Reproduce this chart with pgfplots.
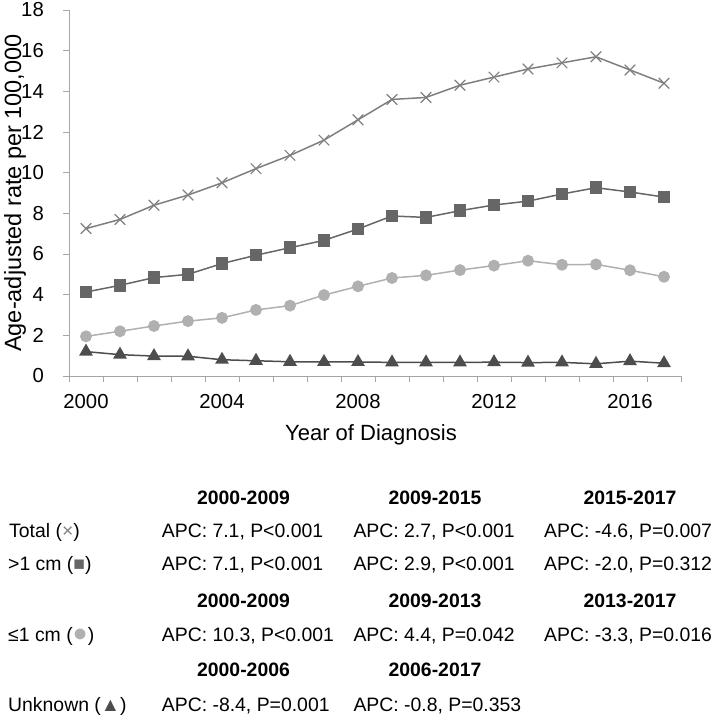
\documentclass[border=0pt]{standalone}
\usepackage{fontspec}
\setmainfont{Liberation Sans}
\usepackage{pgfplots}
\pgfplotsset{compat=1.18}
\definecolor{totc}{HTML}{7F7F7F}
\definecolor{sqc}{HTML}{666666}
\definecolor{circc}{HTML}{B0B0B0}
\definecolor{tric}{HTML}{4D4D4D}
\definecolor{axc}{HTML}{A6A6A6}
\newcommand\tfont{\fontsize{19.4}{23}\selectfont}
\newcommand\lfont{\fontsize{22}{26}\selectfont}
\newcommand\kfont{\fontsize{20.3}{24}\selectfont}
\newcommand\kl[1]{\mbox{\kfont #1}}
\begin{document}
\begin{tikzpicture}
\useasboundingbox (0,0) rectangle (714pt,-715pt);
\begin{axis}[
  at={(69pt,-376pt)}, anchor=south west,
  scale only axis, width=612pt, height=366pt,
  xmin=1999.5, xmax=2017.5, ymin=0, ymax=18,
  axis x line*=bottom, axis y line*=left,
  axis line style={axc, line width=0.9pt, -},
  xtick={1999.5,2000.5,...,2017.5},
  xticklabels={},
  extra x ticks={2000,2004,2008,2012,2016},
  extra x tick labels={\kl{2000},\kl{2004},\kl{2008},\kl{2012},\kl{2016}},
  extra x tick style={major tick length=0pt, xticklabel style={anchor=base, inner sep=0pt, yshift=-32.7pt}},
  ytick={0,2,...,18},
  yticklabels={\kl{0},\kl{2},\kl{4},\kl{6},\kl{8},\kl{10},\kl{12},\kl{14},\kl{16},\kl{18}},
  yticklabel style={anchor=east, inner sep=0pt, xshift=-19pt},
  major tick length=6pt,
  tick align=outside,
  tick style={axc, line width=0.9pt},
  clip=false,
]
\addplot[totc, line width=1.5pt, mark=x, mark size=7.5pt, mark options={line width=1.2pt, draw=totc}] coordinates {
(2000,7.25) (2001,7.7) (2002,8.4) (2003,8.9) (2004,9.5) (2005,10.2) (2006,10.85) (2007,11.6) (2008,12.6) (2009,13.6) (2010,13.7) (2011,14.3) (2012,14.7) (2013,15.1) (2014,15.4) (2015,15.7) (2016,15.05) (2017,14.4)};
\addplot[sqc, line width=1.5pt, mark=square*, mark size=5.5pt, mark options={fill=sqc, draw=sqc}] coordinates {
(2000,4.13) (2001,4.46) (2002,4.84) (2003,5.0) (2004,5.53) (2005,5.94) (2006,6.31) (2007,6.67) (2008,7.23) (2009,7.87) (2010,7.8) (2011,8.13) (2012,8.41) (2013,8.6) (2014,8.95) (2015,9.26) (2016,9.05) (2017,8.8)};
\addplot[circc, line width=1.5pt, mark=*, mark size=5.2pt, mark options={fill=circc, draw=circc}] coordinates {
(2000,1.95) (2001,2.2) (2002,2.46) (2003,2.7) (2004,2.86) (2005,3.25) (2006,3.46) (2007,3.98) (2008,4.41) (2009,4.82) (2010,4.95) (2011,5.21) (2012,5.43) (2013,5.67) (2014,5.47) (2015,5.49) (2016,5.2) (2017,4.88)};
\addplot[tric, line width=1.5pt, mark=triangle*, mark size=6.5pt, mark options={fill=tric, draw=tric}] coordinates {
(2000,1.2) (2001,1.05) (2002,0.98) (2003,0.97) (2004,0.8) (2005,0.75) (2006,0.7) (2007,0.69) (2008,0.69) (2009,0.67) (2010,0.67) (2011,0.67) (2012,0.68) (2013,0.66) (2014,0.67) (2015,0.6) (2016,0.73) (2017,0.63)};
\end{axis}
% axis labels
\node[anchor=base, font=\lfont, inner sep=0pt] at (371pt,-440pt) {Year of Diagnosis};
\node[anchor=base, rotate=90, font=\fontsize{23.5}{27}\selectfont, inner sep=0pt] at (21pt,-193pt) {Age-adjusted rate per 100,000};
% table
\begin{scope}[every node/.style={inner sep=0pt, font=\tfont}]
\node[anchor=base, font=\tfont\bfseries] at (243.5pt,-504pt) {2000-2009};
\node[anchor=base, font=\tfont\bfseries] at (435pt,-504pt) {2009-2015};
\node[anchor=base, font=\tfont\bfseries] at (630pt,-504pt) {2015-2017};
\node[anchor=base west] at (9pt,-537.3pt) {Total ({\color{totc}×})};
\node[anchor=base west] at (161.7pt,-537.3pt) {APC: 7.1, P<0.001};
\node[anchor=base west] at (353.3pt,-537.3pt) {APC: 2.7, P<0.001};
\node[anchor=base west] at (544pt,-537.3pt) {APC: -4.6, P=0.007};
\node[anchor=base west] at (8pt,-570.7pt) {>1 cm ({\color{sqc}■})};
\node[anchor=base west] at (161.7pt,-570.7pt) {APC: 7.1, P<0.001};
\node[anchor=base west] at (353.3pt,-570.7pt) {APC: 2.9, P<0.001};
\node[anchor=base west] at (544pt,-570.7pt) {APC: -2.0, P=0.312};
\node[anchor=base, font=\tfont\bfseries] at (243.5pt,-607.3pt) {2000-2009};
\node[anchor=base, font=\tfont\bfseries] at (435pt,-607.3pt) {2009-2013};
\node[anchor=base, font=\tfont\bfseries] at (630pt,-607.3pt) {2013-2017};
\node[anchor=base west] at (8pt,-641.7pt) {≤1 cm ({\color{circc}\fontsize{25}{25}\selectfont●})};
\node[anchor=base west] at (161.7pt,-641.7pt) {APC: 10.3, P<0.001};
\node[anchor=base west] at (353.3pt,-641.7pt) {APC: 4.4, P=0.042};
\node[anchor=base west] at (544pt,-641.7pt) {APC: -3.3, P=0.016};
\node[anchor=base, font=\tfont\bfseries] at (243.5pt,-676.7pt) {2000-2006};
\node[anchor=base, font=\tfont\bfseries] at (435pt,-676.7pt) {2006-2017};
\node[anchor=base west] at (8pt,-711pt) {Unknown ({\color{tric}▲})};
\node[anchor=base west] at (161.7pt,-711pt) {APC: -8.4, P=0.001};
\node[anchor=base west] at (353.3pt,-711pt) {APC: -0.8, P=0.353};
\end{scope}
\end{tikzpicture}
\end{document}
